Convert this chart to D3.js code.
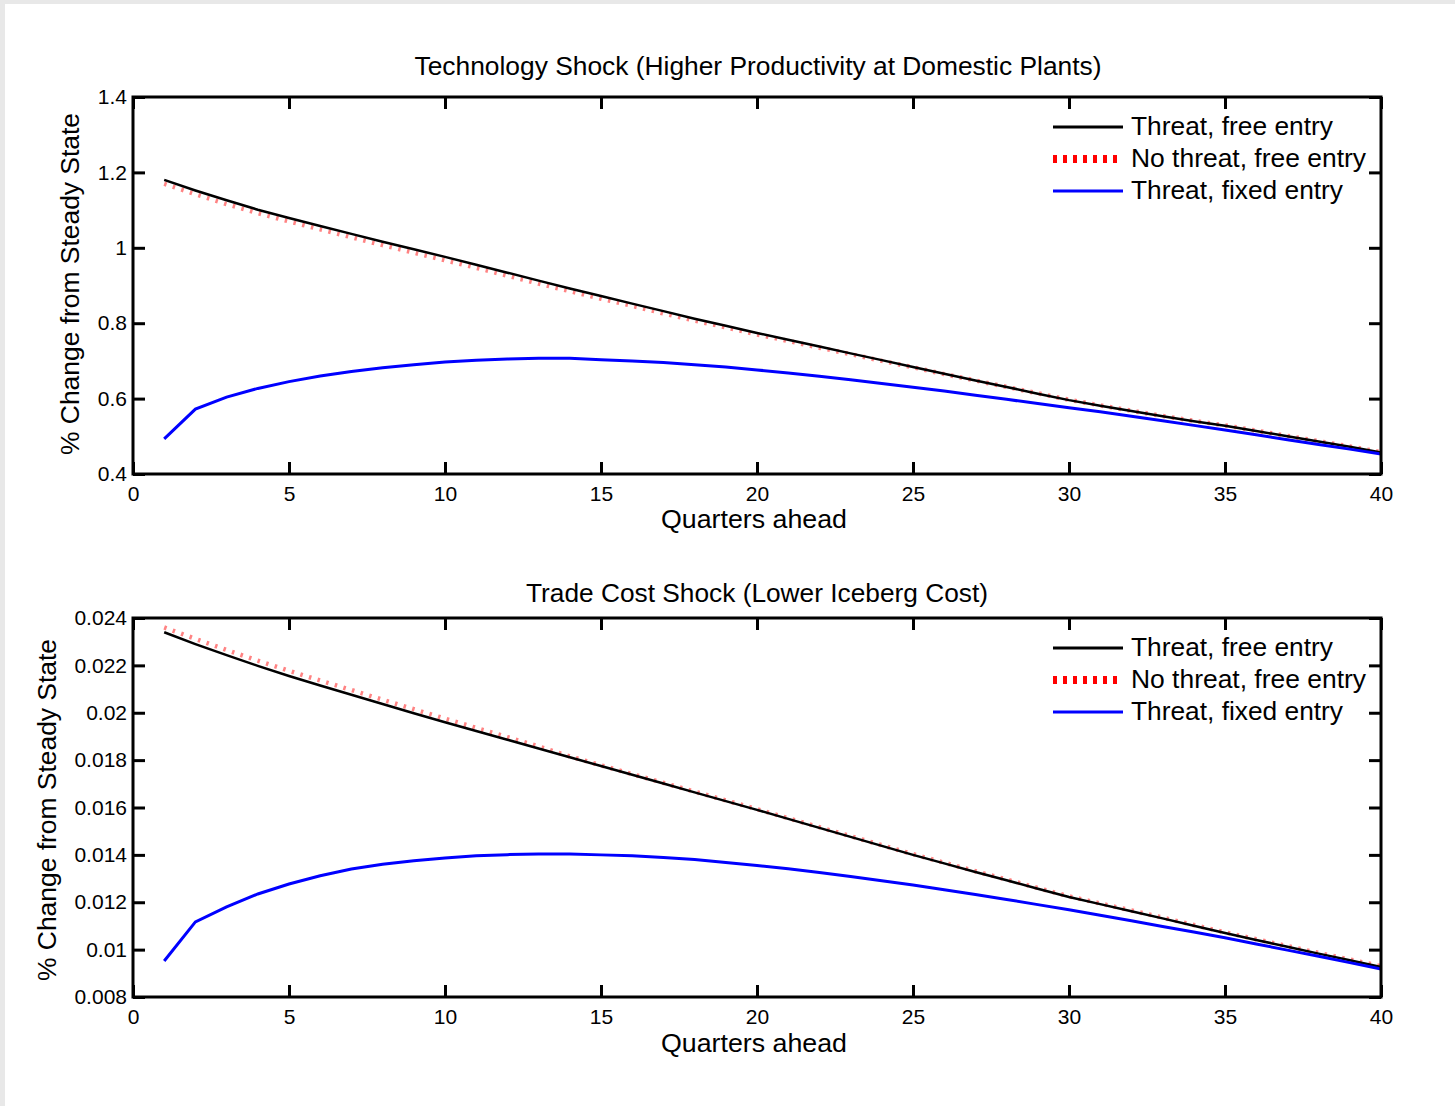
<!DOCTYPE html>
<html><head><meta charset="utf-8">
<script src="https://cdn.jsdelivr.net/npm/d3@7"></script>
<style>
body{margin:0;background:#fff}
svg{display:block}
text{font-family:"Liberation Sans",Arial,Helvetica,sans-serif;fill:#000}
</style>
</head><body>
<svg id="c" width="1455" height="1106"></svg>
<script>
// ---------- DATA ----------
const quarters = [1,2,3,4,5,6,7,8,9,10,11,12,13,14,15,16,17,18,19,20,21,22,23,24,25,26,27,28,29,30,31,32,33,34,35,36,37,38,39,40];
const seriesNames = ["Threat, free entry","No threat, free entry","Threat, fixed entry"];

const techThreatFree = [1.180,1.152,1.126,1.101,1.079,1.058,1.037,1.016,0.996,0.976,0.955,0.934,0.913,0.892,0.872,0.852,0.832,0.812,0.793,0.774,0.756,0.738,0.720,0.702,0.684,0.666,0.648,0.631,0.613,0.596,0.581,0.567,0.553,0.540,0.528,0.514,0.500,0.486,0.472,0.457];
const techNoThreatFree = [1.170,1.142,1.116,1.092,1.070,1.049,1.028,1.007,0.987,0.967,0.947,0.926,0.905,0.885,0.865,0.846,0.826,0.807,0.789,0.770,0.753,0.735,0.718,0.700,0.683,0.665,0.648,0.631,0.614,0.597,0.582,0.568,0.554,0.541,0.529,0.515,0.501,0.487,0.473,0.458];
const techThreatFixed = [0.493,0.572,0.604,0.627,0.645,0.660,0.672,0.682,0.690,0.697,0.702,0.705,0.707,0.707,0.703,0.700,0.696,0.690,0.684,0.676,0.668,0.659,0.650,0.640,0.630,0.620,0.609,0.598,0.587,0.576,0.565,0.553,0.541,0.529,0.517,0.504,0.491,0.478,0.466,0.453];

const tradeThreatFree = [0.02340,0.02290,0.02243,0.02198,0.02155,0.02115,0.02076,0.02037,0.01998,0.01960,0.01923,0.01886,0.01849,0.01812,0.01775,0.01738,0.01701,0.01664,0.01627,0.01590,0.01552,0.01514,0.01476,0.01438,0.01400,0.01364,0.01328,0.01293,0.01257,0.01222,0.01192,0.01162,0.01132,0.01101,0.01070,0.01041,0.01012,0.00983,0.00955,0.00927];
const tradeNoThreatFree = [0.02360,0.02312,0.02265,0.02220,0.02177,0.02136,0.02096,0.02055,0.02015,0.01975,0.01936,0.01897,0.01858,0.01816,0.01778,0.01741,0.01704,0.01667,0.01630,0.01593,0.01555,0.01517,0.01479,0.01441,0.01403,0.01367,0.01331,0.01296,0.01260,0.01225,0.01195,0.01165,0.01135,0.01104,0.01073,0.01044,0.01015,0.00986,0.00958,0.00930];
const tradeThreatFixed = [0.00952,0.01117,0.01180,0.01235,0.01277,0.01312,0.01340,0.01360,0.01375,0.01387,0.01396,0.01401,0.01404,0.01404,0.01400,0.01396,0.01389,0.01380,0.01368,0.01355,0.01341,0.01326,0.01309,0.01291,0.01273,0.01253,0.01233,0.01212,0.01190,0.01168,0.01145,0.01122,0.01098,0.01074,0.01050,0.01024,0.00998,0.00972,0.00945,0.00918];

const xTicks = [0,5,10,15,20,25,30,35,40];
const xTickLabels = ["0","5","10","15","20","25","30","35","40"];
const techYTicks = [0.4,0.6,0.8,1,1.2,1.4];
const techYTickLabels = ["0.4","0.6","0.8","1","1.2","1.4"];
const tradeYTicks = [0.008,0.010,0.012,0.014,0.016,0.018,0.020,0.022,0.024];
const tradeYTickLabels = ["0.008","0.01","0.012","0.014","0.016","0.018","0.02","0.022","0.024"];

const panelTitles = ["Technology Shock (Higher Productivity at Domestic Plants)","Trade Cost Shock (Lower Iceberg Cost)"];
const xLabel = "Quarters ahead";
const yLabel = "% Change from Steady State";

// ---------- DRAW ----------
const svg = d3.select("#c");
svg.append("rect").attr("width",1455).attr("height",1106).attr("fill","#e8e8e8");
svg.append("rect").attr("x",5).attr("y",4).attr("width",1450).attr("height",1102).attr("fill","#fff");

const panels = [
  {title:panelTitles[0], titleLen:687, titleX:758, titleY:75, top:97, bottom:474,
   domain:[0.4,1.4], ticks:techYTicks, tickLabels:techYTickLabels,
   series:[techThreatFree,techNoThreatFree,techThreatFixed],
   ylabX:70, ylabY:284, xlabY:528},
  {title:panelTitles[1], titleLen:462, titleX:757, titleY:602, top:618, bottom:997,
   domain:[0.008,0.024], ticks:tradeYTicks, tickLabels:tradeYTickLabels,
   series:[tradeThreatFree,tradeNoThreatFree,tradeThreatFixed],
   ylabX:47, ylabY:810, xlabY:1052}
];

const left = 133, right = 1381;
const x = d3.scaleLinear().domain([0,40]).range([left,right]);

panels.forEach(p => {
  const y = d3.scaleLinear().domain(p.domain).range([p.bottom,p.top]);
  const g = svg.append("g");

  // data lines
  const line = d3.line().x(d => x(d[0])).y(d => y(d[1]));
  const pts = s => quarters.map((q,i) => [q, s[i]]);
  g.append("path").attr("d", line(pts(p.series[1])))
    .attr("fill","none").attr("stroke","#ff3030").attr("stroke-width",4.5)
    .attr("stroke-dasharray","2.5,6.5").attr("opacity",0.6);
  g.append("path").attr("d", line(pts(p.series[0])))
    .attr("fill","none").attr("stroke","#000").attr("stroke-width",2.5);
  g.append("path").attr("d", line(pts(p.series[2])))
    .attr("fill","none").attr("stroke","#0000ff").attr("stroke-width",3);

  // axes
  const fmtX = d => xTickLabels[xTicks.indexOf(d)];
  const fmtY = d => p.tickLabels[p.ticks.indexOf(d)];
  const ab = g.append("g").attr("transform",`translate(0,${p.bottom})`)
    .call(d3.axisBottom(x).tickValues(xTicks).tickFormat(fmtX).tickSize(-12).tickSizeOuter(0).tickPadding(12));
  const al = g.append("g").attr("transform",`translate(${left},0)`)
    .call(d3.axisLeft(y).tickValues(p.ticks).tickFormat(fmtY).tickSize(-12).tickSizeOuter(0).tickPadding(6));
  const at = g.append("g").attr("transform",`translate(0,${p.top})`)
    .call(d3.axisTop(x).tickValues(xTicks).tickFormat("").tickSize(-12).tickSizeOuter(0));
  const ar = g.append("g").attr("transform",`translate(${right},0)`)
    .call(d3.axisRight(y).tickValues(p.ticks).tickFormat("").tickSize(-12).tickSizeOuter(0));
  [ab,al,at,ar].forEach(a => {
    a.select(".domain").remove();
    a.selectAll(".tick line").attr("stroke","#000").attr("stroke-width",3);
    a.selectAll(".tick text").attr("font-size",21).attr("font-family",null).style("fill","#000");
  });
  g.append("rect").attr("x",left).attr("y",p.top).attr("width",right-left).attr("height",p.bottom-p.top)
    .attr("fill","none").attr("stroke","#000").attr("stroke-width",3);

  // title and labels
  g.append("text").attr("x",p.titleX).attr("y",p.titleY).attr("text-anchor","middle")
    .attr("font-size",25).attr("textLength",p.titleLen).attr("lengthAdjust","spacingAndGlyphs").text(p.title);
  g.append("text").attr("x",754).attr("y",p.xlabY).attr("text-anchor","middle")
    .attr("font-size",26).attr("textLength",186).attr("lengthAdjust","spacingAndGlyphs").text(xLabel);
  g.append("text").attr("transform",`translate(${p.ylabX},${p.ylabY}) rotate(-90)`)
    .attr("text-anchor","middle").attr("dy","0.35em")
    .attr("font-size",25).attr("textLength",342).attr("lengthAdjust","spacingAndGlyphs").text(yLabel);

  // legend
  const legOff = [30,62,94];
  const legLen = [202,235,212];
  seriesNames.forEach((name,i) => {
    const ly = p.top + legOff[i];
    const l = g.append("line").attr("x1",1053).attr("x2",1123).attr("y1",ly).attr("y2",ly);
    if (i === 0) l.attr("stroke","#000").attr("stroke-width",3);
    if (i === 1) l.attr("stroke","#ff0000").attr("stroke-width",8).attr("stroke-dasharray","4,6");
    if (i === 2) l.attr("stroke","#0000ff").attr("stroke-width",3);
    g.append("text").attr("x",1131).attr("y",ly+8).attr("font-size",26)
      .attr("textLength",legLen[i]).attr("lengthAdjust","spacingAndGlyphs").text(name);
  });
});
</script>
</body></html>
